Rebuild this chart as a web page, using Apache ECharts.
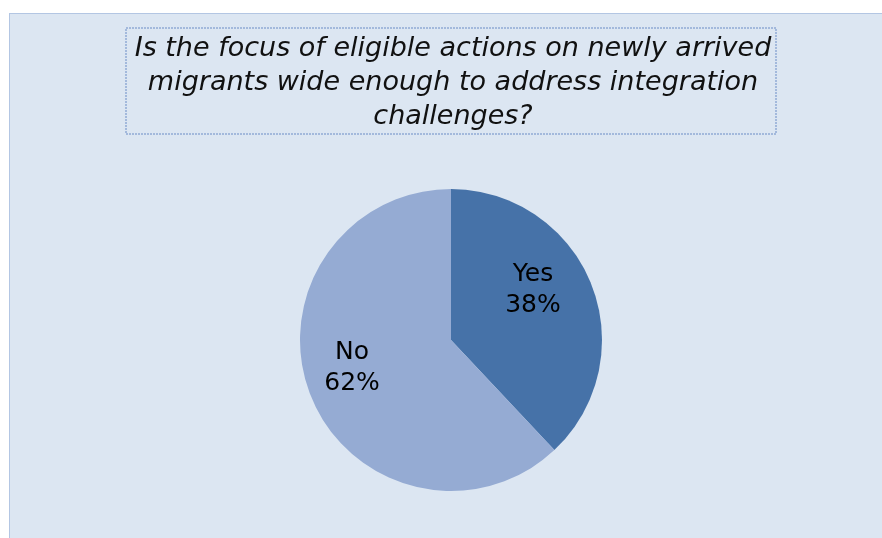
<!DOCTYPE html>
<html>
<head>
<meta charset="utf-8">
<script src="https://cdn.jsdelivr.net/npm/echarts@6/dist/echarts.min.js"></script>
<style>
  html, body { margin: 0; padding: 0; background: #ffffff; }
  .panel {
    position: absolute; left: 9px; top: 13px; width: 873px; height: 525px;
    background: #dce6f2; border-top: 1px solid #b3c6e3; border-left: 1px solid #b3c6e3;
    box-sizing: border-box;
  }
  #main { position: absolute; left: 0; top: 0; width: 882px; height: 538px; }
</style>
</head>
<body>
<div class="panel"></div>
<div id="main"></div>
<script>
const titleText = 'Is the focus of eligible actions on newly arrived\nmigrants wide enough to address integration\nchallenges?'
const categories = ['Yes', 'No']
const shares = [38, 62]
const sliceColors = ['#4672a8', '#95abd3']
const labelOffsets = [[9, -21], [-26, -1]]

const chart = echarts.init(document.getElementById('main'))

const pieData = categories.map((name, i) => ({
  name: name,
  value: shares[i],
  itemStyle: { color: sliceColors[i] },
  label: { offset: labelOffsets[i] }
}))

const option = {
  backgroundColor: 'transparent',
  animation: false,
  title: {
    text: titleText,
    left: 448,
    textAlign: 'center',
    top: 27,
    textStyle: {
      fontFamily: 'DejaVu Sans',
      fontStyle: 'italic',
      fontWeight: 'normal',
      fontSize: 27,
      lineHeight: 34,
      color: '#111111',
      align: 'center'
    }
  },
  graphic: [{
    type: 'rect',
    shape: { x: 126, y: 28, width: 650, height: 106 },
    style: { fill: 'transparent', stroke: '#a3b9dc', lineWidth: 2, lineDash: [2, 1] },
    z: 1
  }],
  series: [{
    type: 'pie',
    center: [451, 340],
    radius: [0, 151],
    startAngle: 90,
    clockwise: true,
    data: pieData,
    label: {
      show: true,
      position: 'inside',
      formatter: '{b}\n{d}%',
      fontFamily: 'DejaVu Sans',
      fontSize: 25,
      lineHeight: 31,
      color: '#000000'
    },
    labelLine: { show: false },
    itemStyle: { borderWidth: 0 },
    emphasis: { disabled: true }
  }]
}
option && chart.setOption(option)
</script>
</body>
</html>
